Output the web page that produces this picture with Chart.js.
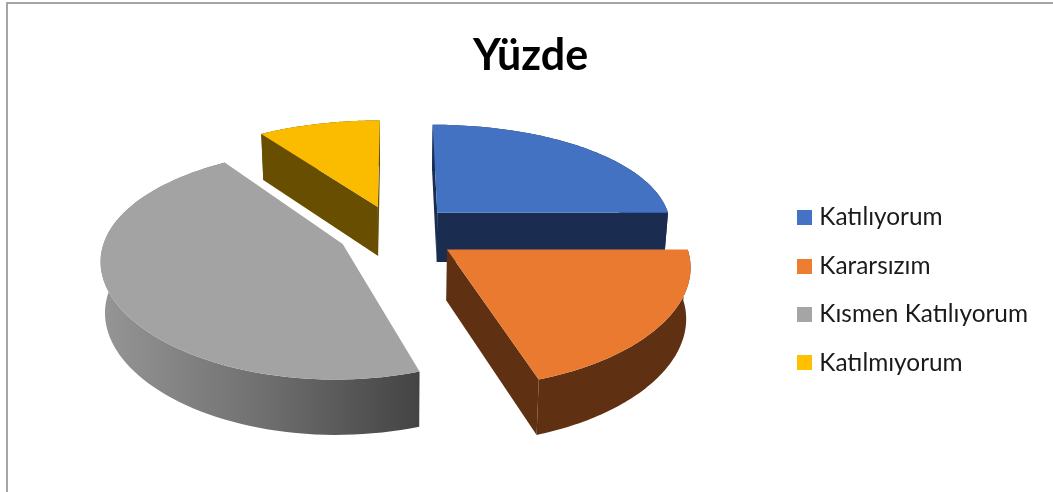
<!DOCTYPE html>
<html lang="tr">

<head>
    <meta charset="UTF-8">
    <title>Yüzde</title>
    <script src="https://cdn.jsdelivr.net/npm/chart.js"></script>
    <style>
        html, body { margin: 0; background: #fff; overflow: hidden; }
        .frame { position: absolute; left: 6px; top: 2px; width: 1100px; height: 600px; border: 2px solid #a6a6a6; box-sizing: border-box; }
        .wrap { position: absolute; left: 0; top: 0; width: 1053px; height: 492px; }
    </style>
</head>

<body>
    <div class="frame"></div>
    <div class="wrap"><canvas id="chart"></canvas></div>

    <script>
        const categories = ['Katılıyorum', 'Kararsızım', 'Kısmen Katılıyorum', 'Katılmıyorum'];
        const values = [25, 20, 45.4, 9.6];
        const colors = ['#4472c4', '#ed7d31', '#a5a5a5', '#ffc000'];
        const topColors = ['#4372c3', '#e97a30', '#a3a3a3', '#fbbc00'];
        const sideColors = ['#1a2d50', '#5f3112', '#7a7a7a', '#674e00'];

        // perspective settings for the tilted pie
        const view = { cx: 395, cy: 232, radius: 236, tilt: 0.46, cameraX: 8, cameraY: 6, depth: 50, shrink: 0.985 };
        const explode = [34, 35, 32, 33];

        function project(u, v, bottom) {
            const px = view.cameraX / (view.cameraX - v);
            const py = view.cameraY / (view.cameraY - v);
            let x = view.cx + view.radius * u * px;
            let y = view.cy + view.radius * view.tilt * v * py;
            if (bottom) {
                x = view.cx + (x - view.cx) * view.shrink;
                y += view.depth * Math.pow(py, 0.5);
            }
            return { x, y };
        }

        function tracePath(ctx, pts) {
            ctx.beginPath();
            pts.forEach((pt, i) => (i ? ctx.lineTo(pt.x, pt.y) : ctx.moveTo(pt.x, pt.y)));
            ctx.closePath();
        }

        function drawSlice(ctx, arc, i) {
            const mid = (arc.startAngle + arc.endAngle) / 2;
            const d = arc.options.offset / arc.outerRadius;
            const ou = Math.cos(mid) * d;
            const ov = Math.sin(mid) * d;
            const rim = [];
            const steps = 80;
            for (let s = 0; s <= steps; s++) {
                const a = arc.startAngle + (arc.endAngle - arc.startAngle) * s / steps;
                rim.push([ou + Math.cos(a), ov + Math.sin(a)]);
            }
            const rimTop = rim.map(r => project(r[0], r[1], false));
            const rimBottom = rim.map(r => project(r[0], r[1], true));
            const tipTop = project(ou, ov, false);
            const tipBottom = project(ou, ov, true);

            // straight cut walls, only the ones that face the viewer
            [[arc.startAngle, 0, -1], [arc.endAngle, steps, 1]].forEach(([a, idx, sign]) => {
                if (Math.cos(a) * sign > -0.02) {
                    ctx.fillStyle = sideColors[i];
                    tracePath(ctx, [tipTop, rimTop[idx], rimBottom[idx], tipBottom]);
                    ctx.fill();
                }
            });

            // outer wall
            let wall = sideColors[i];
            if (i === 2) {
                wall = ctx.createLinearGradient(100, 0, 421, 0);
                wall.addColorStop(0, '#969696');
                wall.addColorStop(0.5, '#707070');
                wall.addColorStop(1, '#434343');
            }
            ctx.fillStyle = wall;
            tracePath(ctx, rimTop.concat(rimBottom.slice().reverse()));
            ctx.fill();

            // top face
            ctx.fillStyle = topColors[i];
            tracePath(ctx, [tipTop].concat(rimTop));
            ctx.fill();
        }

        const pie3d = {
            id: 'pie3d',
            beforeDatasetsDraw(chart) {
                const arcs = chart.getDatasetMeta(0).data;
                const ctx = chart.ctx;
                // back slices first
                [3, 0, 2, 1].forEach(i => drawSlice(ctx, arcs[i], i));
                return false;
            }
        };

        // legend square, 15px, closer to the text than the default box
        function swatch(color) {
            const c = document.createElement('canvas');
            c.width = 15;
            c.height = 15;
            const g = c.getContext('2d');
            g.fillStyle = color;
            g.fillRect(0, 0, 15, 15);
            return c;
        }

        new Chart(document.getElementById('chart'), {
            type: 'pie',
            data: {
                labels: categories,
                datasets: [{
                    data: values,
                    backgroundColor: colors,
                    borderWidth: 0,
                    offset: explode
                }]
            },
            options: {
                responsive: true,
                maintainAspectRatio: false,
                animation: false,
                layout: { padding: { left: 23, right: 15, top: 0, bottom: 93 } },
                plugins: {
                    title: {
                        display: true,
                        text: 'Yüzde',
                        color: '#000',
                        font: { family: 'Lato', size: 43, weight: 'bold' },
                        padding: { top: 30, bottom: 20 }
                    },
                    legend: {
                        position: 'right',
                        align: 'end',
                        labels: {
                            usePointStyle: true,
                            pointStyleWidth: 5,
                            boxHeight: 15,
                            padding: 24,
                            color: '#1a1a1a',
                            font: { family: 'Lato', size: 24.4 },
                            generateLabels(chart) {
                                const base = Chart.overrides.pie.plugins.legend.labels.generateLabels(chart);
                                return base.map((item, i) => ({ ...item, pointStyle: swatch(colors[i]) }));
                            }
                        }
                    },
                    tooltip: { enabled: false }
                }
            },
            plugins: [pie3d]
        });
    </script>
</body>

</html>
